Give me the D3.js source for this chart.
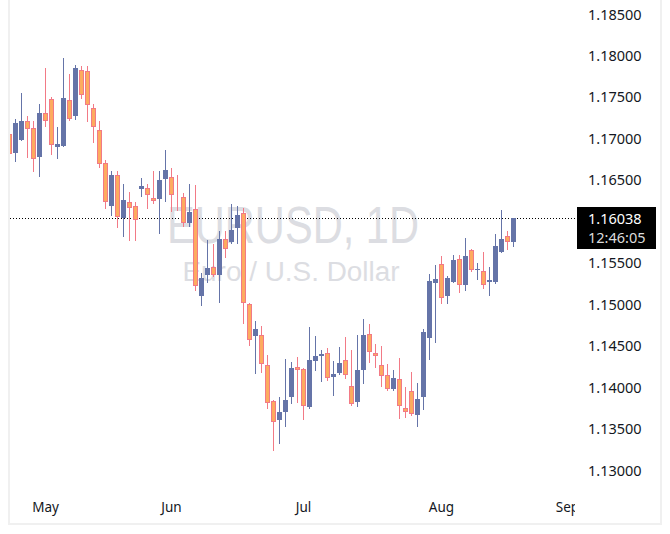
<!DOCTYPE html>
<html lang="en">
<head>
<meta charset="UTF-8">
<title>EURUSD, 1D</title>
<script src="https://d3js.org/d3.v7.min.js"></script>
<style>
  body { margin: 0; background: #fff; }
  svg { display: block; font-family: "Noto Sans", sans-serif; }
</style>
</head>
<body>
<div id="chart"></div>
<script>
// daily candles, first bar is 23 Apr, one bar per weekday
const startDay = new Date(2020, 3, 23);
const endDay = new Date(2020, 8, 30);

const open = [1.17052, 1.16827, 1.16984, 1.17209, 1.17125, 1.16779, 1.17306, 1.17471, 1.16899, 1.16911,
  1.17459, 1.17273, 1.17821, 1.17809, 1.17363, 1.17101, 1.16703, 1.16188, 1.16558, 1.16043,
  1.16232, 1.16184, 1.16385, 1.16398, 1.16277, 1.16272, 1.16513, 1.16530, 1.16305, 1.16289,
  1.15983, 1.16144, 1.15104, 1.15355, 1.15445, 1.15355, 1.15786, 1.15744, 1.15922, 1.16100,
  1.15002, 1.14619, 1.14624, 1.14262, 1.13828, 1.13606, 1.13703, 1.13884, 1.14238, 1.14214,
  1.13763, 1.14318, 1.14371, 1.14407, 1.14125, 1.14170, 1.14323, 1.14009, 1.13823, 1.14209,
  1.14640, 1.14411, 1.14262, 1.14142, 1.13973, 1.14094, 1.13744, 1.13949, 1.13667, 1.13884,
  1.14588, 1.15251, 1.15481, 1.15102, 1.15271, 1.15541, 1.15235, 1.15650, 1.15412, 1.15400,
  1.15264, 1.15271, 1.15633, 1.15822, 1.15753];

const high = [1.17065, 1.17233, 1.17547, 1.17270, 1.17209, 1.17414, 1.17852, 1.17499, 1.17137, 1.17973,
  1.17776, 1.17885, 1.17873, 1.17873, 1.17414, 1.17209, 1.16739, 1.16606, 1.16606, 1.16449,
  1.16353, 1.16232, 1.16522, 1.16449, 1.16603, 1.16606, 1.16859, 1.16642, 1.16558, 1.16335,
  1.16449, 1.16437, 1.15372, 1.15774, 1.15726, 1.15888, 1.15888, 1.16214, 1.16190, 1.16160,
  1.15014, 1.14797, 1.14736, 1.14387, 1.13844, 1.13876, 1.14335, 1.14302, 1.14363, 1.14230,
  1.14724, 1.14616, 1.14447, 1.14471, 1.14314, 1.14483, 1.14604, 1.14447, 1.14628, 1.14821,
  1.14761, 1.14519, 1.14495, 1.14278, 1.14206, 1.14347, 1.13997, 1.14182, 1.14049, 1.14704,
  1.15364, 1.15472, 1.15581, 1.15340, 1.15593, 1.15589, 1.15798, 1.15665, 1.15496, 1.15629,
  1.15448, 1.15846, 1.16136, 1.15882, 1.16040];

const low = [1.16799, 1.16730, 1.16980, 1.16779, 1.16610, 1.16549, 1.17153, 1.16815, 1.16767, 1.16905,
  1.17225, 1.17233, 1.17483, 1.17213, 1.16960, 1.16658, 1.16160, 1.16075, 1.15927, 1.15826,
  1.15774, 1.15774, 1.16305, 1.16160, 1.16224, 1.15862, 1.16248, 1.16127, 1.16136, 1.15949,
  1.15949, 1.15177, 1.14996, 1.15273, 1.15334, 1.15032, 1.15572, 1.15732, 1.15741, 1.14773,
  1.14513, 1.14173, 1.14185, 1.13751, 1.13241, 1.13329, 1.13534, 1.13811, 1.13823, 1.13618,
  1.13751, 1.14209, 1.14077, 1.14081, 1.13908, 1.14157, 1.14113, 1.13780, 1.13775, 1.14053,
  1.14306, 1.14245, 1.14016, 1.13964, 1.13968, 1.13630, 1.13642, 1.13665, 1.13534, 1.13735,
  1.14342, 1.14547, 1.15010, 1.15018, 1.15265, 1.15150, 1.15174, 1.15404, 1.15307, 1.15198,
  1.15110, 1.15259, 1.15630, 1.15669, 1.15705];

const close = [1.16815, 1.17185, 1.17209, 1.17116, 1.16747, 1.17306, 1.17206, 1.16916, 1.16932, 1.17483,
  1.17230, 1.17849, 1.17519, 1.17399, 1.17133, 1.16687, 1.16236, 1.16558, 1.16055, 1.16256,
  1.16163, 1.16011, 1.16425, 1.16313, 1.16248, 1.16494, 1.16618, 1.16313, 1.16299, 1.15975,
  1.16115, 1.15215, 1.15312, 1.15436, 1.15348, 1.15786, 1.15663, 1.15894, 1.16075, 1.15010,
  1.14568, 1.14700, 1.14274, 1.13804, 1.13575, 1.13695, 1.13844, 1.14226, 1.14202, 1.13768,
  1.14323, 1.14371, 1.14399, 1.14106, 1.14157, 1.14290, 1.14142, 1.13792, 1.14206, 1.14628,
  1.14419, 1.14371, 1.14130, 1.13973, 1.14106, 1.13768, 1.13695, 1.13671, 1.13852, 1.14664,
  1.15279, 1.15303, 1.15071, 1.15315, 1.15529, 1.15227, 1.15581, 1.15416, 1.15420, 1.15235,
  1.15291, 1.15701, 1.15786, 1.15746, 1.16038];

const priceTicks = [1.13, 1.135, 1.14, 1.145, 1.15, 1.155, 1.16, 1.165, 1.17, 1.175, 1.18, 1.185];
const monthNames = ["May", "Jun", "Jul", "Aug", "Sep"];
const symbolTitle = "EURUSD, 1D";
const symbolName = "Euro / U.S. Dollar";
const lastPrice = 1.16038;
const countdown = "12:46:05";

const width = 670, height = 534;
const plotLeft = 10, plotRight = 578, plotBottom = 480;

const upColor = "#6574a8";
const downFill = "#fdab5f";
const downLine = "#f27a86";

// weekdays only
const days = d3.timeDay.range(startDay, endDay).filter(d => d.getDay() !== 0 && d.getDay() !== 6);

const bars = close.map((c, i) => ({ i, o: open[i], h: high[i], l: low[i], c }));

const x = d3.scaleLinear().domain([0, bars.length - 1]).range([9.5, 9.5 + 6 * (bars.length - 1)]);
const y = d3.scaleLinear().domain([1.13, 1.185]).range([470, 14]);

const svg = d3.select("#chart").append("svg")
  .attr("width", width)
  .attr("height", height);

svg.append("defs").append("clipPath").attr("id", "plotClip")
  .append("rect").attr("x", plotLeft).attr("y", 0)
  .attr("width", plotRight - plotLeft).attr("height", plotBottom);
svg.select("defs").append("clipPath").attr("id", "timeClip")
  .append("rect").attr("x", 0).attr("y", plotBottom)
  .attr("width", plotRight - 3).attr("height", 45);

const plot = svg.append("g").attr("clip-path", "url(#plotClip)");

// watermark
const wmX = (plotLeft + plotRight) / 2;
plot.append("text")
  .attr("x", wmX - 1).attr("y", 243)
  .attr("text-anchor", "middle")
  .attr("font-family", "Liberation Sans, sans-serif")
  .attr("font-size", 51)
  .attr("textLength", 252)
  .attr("lengthAdjust", "spacingAndGlyphs")
  .attr("fill", "#dcdde2")
  .text(symbolTitle);
plot.append("text")
  .attr("x", wmX - 3).attr("y", 281)
  .attr("text-anchor", "middle")
  .attr("font-family", "Liberation Sans, sans-serif")
  .attr("font-size", 27)
  .attr("textLength", 217)
  .attr("lengthAdjust", "spacingAndGlyphs")
  .attr("fill", "#dcdde2")
  .text(symbolName);

// last price line
const ly = Math.round(y(lastPrice));
plot.append("line")
  .attr("x1", plotLeft).attr("x2", plotRight)
  .attr("y1", ly + 0.5).attr("y2", ly + 0.5)
  .attr("stroke", "#000")
  .attr("stroke-dasharray", "1,2");

// candles
const candle = plot.selectAll(".candle")
  .data(bars)
  .enter()
  .append("g")
  .attr("class", "candle");

candle.append("line")
  .attr("x1", d => x(d.i)).attr("x2", d => x(d.i))
  .attr("y1", d => Math.round(y(d.h)))
  .attr("y2", d => Math.round(y(d.l)) + 1)
  .attr("stroke", d => d.c >= d.o ? upColor : downLine)
  .attr("stroke-width", 1);

candle.filter(d => d.c >= d.o).append("rect")
  .attr("x", d => x(d.i) - 2.5)
  .attr("y", d => Math.round(y(d.c)))
  .attr("width", 5)
  .attr("height", d => Math.max(1, Math.round(y(d.o)) - Math.round(y(d.c))))
  .attr("fill", upColor);

candle.filter(d => d.c < d.o).append("rect")
  .attr("x", d => x(d.i) - 2)
  .attr("y", d => Math.round(y(d.o)) + 0.5)
  .attr("width", 4)
  .attr("height", d => Math.max(0, Math.round(y(d.c)) - Math.round(y(d.o)) - 1))
  .attr("fill", downFill)
  .attr("stroke", downLine)
  .attr("stroke-width", 1);

// price scale, the label under the last price badge is hidden
const badgeTop = ly - 11, badgeBottom = ly + 31;
svg.append("g").selectAll("text")
  .data(priceTicks.filter(d => y(d) + 6 < badgeTop || y(d) - 6 > badgeBottom))
  .enter()
  .append("text")
  .attr("x", 588)
  .attr("y", d => y(d) + 5.5)
  .attr("font-size", 14.5)
  .attr("fill", "#131722")
  .text(d => d3.format(".5f")(d));

// last price badge
svg.append("rect")
  .attr("x", 577).attr("y", badgeTop)
  .attr("width", 79).attr("height", badgeBottom - badgeTop)
  .attr("fill", "#000");
svg.append("text")
  .attr("x", 588).attr("y", ly + 6)
  .attr("font-size", 14.5)
  .attr("fill", "#fff")
  .text(d3.format(".5f")(lastPrice));
svg.append("text")
  .attr("x", 588).attr("y", ly + 25)
  .attr("font-size", 14.5)
  .attr("fill", "#dcdcdc")
  .text(countdown);

// time scale: first weekday of each month
const monthTicks = monthNames.map((name, k) => {
  const idx = days.findIndex(d => d.getMonth() === 4 + k);
  return { name, idx };
});
svg.append("g").attr("clip-path", "url(#timeClip)")
  .selectAll("text")
  .data(monthTicks)
  .enter()
  .append("text")
  .attr("x", d => x(d.idx))
  .attr("y", 512)
  .attr("text-anchor", "middle")
  .attr("font-size", 13.5)
  .attr("fill", "#131722")
  .text(d => d.name);

// frame
const frame = svg.append("g").attr("fill", "#f0f0f0");
frame.append("rect").attr("x", 8).attr("y", 0).attr("width", 2).attr("height", 525);
frame.append("rect").attr("x", 8).attr("y", 523).attr("width", 654).attr("height", 2);
frame.append("rect").attr("x", 660).attr("y", 0).attr("width", 2).attr("height", 525);
</script>
</body>
</html>
